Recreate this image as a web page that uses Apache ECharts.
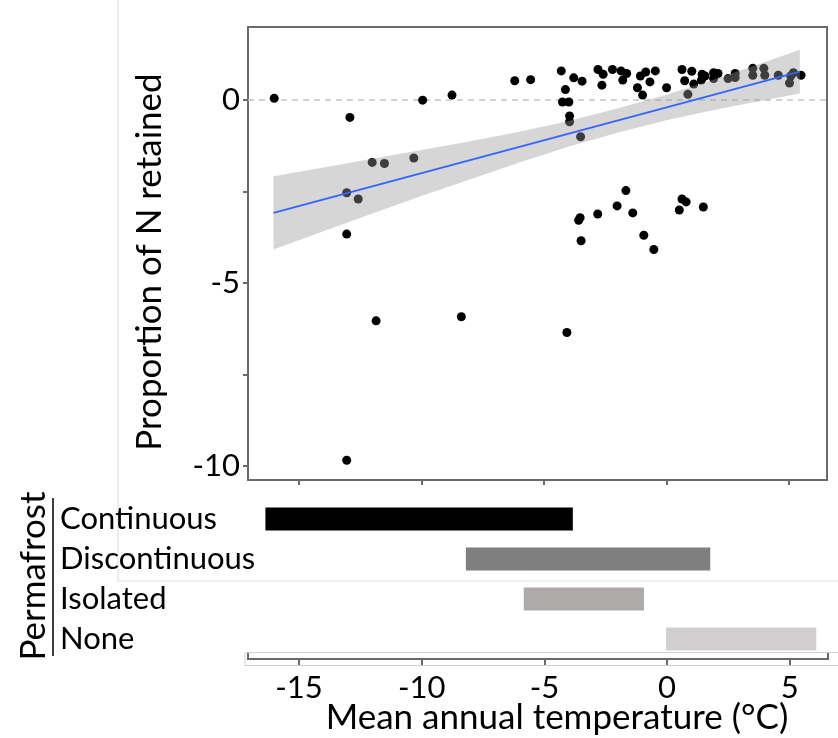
<!DOCTYPE html>
<html><head><meta charset="utf-8">
<script src="https://cdn.jsdelivr.net/npm/echarts@6/dist/echarts.min.js"></script>
<style>html,body{margin:0;padding:0;background:#fff}#c{width:838px;height:738px}</style>
</head><body><div id="c"></div>
<script>
// ---- data ----
const tempX = [-16.01, -12.92, -13.05, -12.58, -12.01, -11.51, -10.31, -13.05, -11.85, -8.37, -4.06, -13.05,
  -1.65, -2.01, -2.80, -3.52, -3.58, -1.37, -3.48, -0.92, -0.51, 0.64, 0.81, 0.53, 1.51,
  -9.95, -8.75, -6.19, -5.54, -4.29, -3.78, -3.44, -4.12, -4.24, -3.98, -3.95, -3.95, -3.50,
  -2.79, -2.58, -2.20, -1.85, -1.62, -2.63, -1.78, -1.06, -0.84, -0.45, -1.18, -0.67, -0.97, 0.01,
  0.64, 1.04, 0.75, 1.12, 0.88, 1.46, 1.58, 1.43, 1.93, 2.11, 1.93, 2.52, 2.81, 2.81,
  3.53, 3.53, 3.98, 4.02, 4.57, 5.03, 5.19, 5.50, 5.08];
const propN = [0.05, -0.47, -2.53, -2.70, -1.70, -1.73, -1.58, -3.66, -6.03, -5.92, -6.35, -9.84,
  -2.47, -2.89, -3.11, -3.21, -3.28, -3.08, -3.84, -3.69, -4.08, -2.70, -2.78, -3.00, -2.92,
  0.00, 0.14, 0.53, 0.56, 0.80, 0.61, 0.52, 0.29, -0.05, -0.05, -0.43, -0.59, -1.00,
  0.84, 0.71, 0.84, 0.80, 0.73, 0.41, 0.55, 0.66, 0.77, 0.80, 0.34, 0.50, 0.14, 0.34,
  0.84, 0.79, 0.53, 0.44, 0.16, 0.71, 0.66, 0.55, 0.75, 0.73, 0.59, 0.59, 0.73, 0.62,
  0.87, 0.68, 0.87, 0.68, 0.68, 0.47, 0.75, 0.68, 0.66];
const fitX = [-16.04, 5.45];
const fitY = [-3.08, 0.78];
const ciX    = [-16.04, -14, -12, -10, -8, -6, -4, -2, 0, 2, 4, 5.45];
const ciLow  = [-4.08, -3.58, -3.10, -2.62, -2.16, -1.70, -1.27, -0.89, -0.55, -0.26, 0.00, 0.18];
const ciHigh = [-2.08, -1.84, -1.60, -1.36, -1.12, -0.86, -0.57, -0.23, 0.15, 0.58, 1.04, 1.38];
const permCats  = ['Continuous', 'Discontinuous', 'Isolated', 'None'];
const permStart = [-16.37, -8.20, -5.84, -0.04];
const permEnd   = [-3.84, 1.76, -0.94, 6.08];
const xTicks = [-15, -10, -5, 0, 5];
const yTicks = [0, -2.5, -5, -7.5, -10];
const yTickLabels = [0, -5, -10];

// ---- styles ----
const FONT = 'Lato';
const FS = 31;
const FT = 35;
const barColors = ['#000000', '#7f7f7f', '#aeaaaa', '#d0cece'];
const axisGray = '#6a6a6a';
const X_MIN = -17.08, X_MAX = 6.56;

const chart = echarts.init(document.getElementById('c'), null, {renderer: 'canvas'});
const option = {
  animation: false,
  backgroundColor: '#fff',
  textStyle: {fontFamily: FONT},
  grid: [
    {left: 248, top: 27, right: 11, height: 453, show: true, borderColor: axisGray, borderWidth: 2, backgroundColor: 'transparent', containLabel: false},
    {left: 248, top: 499, right: 10, height: 160, containLabel: false}
  ],
  xAxis: [
    {gridIndex: 0, type: 'value', position: 'bottom', min: X_MIN, max: X_MAX, splitLine: {show: false},
      axisLine: {show: false, onZero: false},
      axisTick: {show: true, inside: false, length: 5, lineStyle: {color: axisGray, width: 2}, customValues: xTicks},
      axisLabel: {show: false}},
    {gridIndex: 1, type: 'value', position: 'bottom', min: X_MIN, max: X_MAX, splitLine: {show: false},
      axisLine: {show: true, onZero: false, lineStyle: {color: axisGray, width: 2}},
      axisTick: {show: true, length: 6, lineStyle: {color: axisGray, width: 2}, customValues: xTicks},
      axisLabel: {show: true, customValues: xTicks, fontSize: FS, fontFamily: FONT, color: '#000', margin: 13}}
  ],
  yAxis: [
    {gridIndex: 0, type: 'value', position: 'left', min: -10.38, max: 2.0, splitLine: {show: false},
      axisLine: {show: false, onZero: false},
      axisTick: {show: true, length: 5, lineStyle: {color: axisGray, width: 2}, customValues: yTicks},
      axisLabel: {show: true, customValues: yTickLabels, fontSize: FS, fontFamily: FONT, color: '#000', margin: 8}},
    {gridIndex: 1, type: 'category', data: permCats, inverse: true,
      axisLine: {show: false, onZero: false}, axisTick: {show: false}, splitLine: {show: false},
      axisLabel: {show: true, interval: 0, hideOverlap: false, align: 'left', margin: 188, fontSize: FS, fontFamily: FONT, color: '#000'}}
  ],
  series: [
    {type: 'scatter', xAxisIndex: 0, yAxisIndex: 0, z: 2,
      data: tempX.map((x, i) => [x, propN[i]]),
      symbol: 'circle', symbolSize: 9, itemStyle: {color: '#000', opacity: 1},
      markLine: {silent: true, symbol: 'none', label: {show: false}, z: 1,
        lineStyle: {color: '#c4c4c4', type: [6, 5], width: 1.5},
        data: [{yAxis: 0}]}},
    {type: 'custom', xAxisIndex: 0, yAxisIndex: 0, z: 3, clip: true,
      data: ciX.map((x, i) => [x, ciLow[i], ciHigh[i]]),
      encode: {x: 0, y: [1, 2]},
      renderItem: function (params, api) {
        if (params.dataIndex !== 0) return null;
        const pts = [];
        for (let i = 0; i < ciX.length; i++) pts.push(api.coord([ciX[i], ciHigh[i]]));
        for (let i = ciX.length - 1; i >= 0; i--) pts.push(api.coord([ciX[i], ciLow[i]]));
        return {type: 'polygon', shape: {points: pts}, style: {fill: 'rgba(153,153,153,0.4)'}};
      }},
    {type: 'line', xAxisIndex: 0, yAxisIndex: 0, z: 4, symbol: 'none',
      data: fitX.map((x, i) => [x, fitY[i]]),
      lineStyle: {color: '#3366ff', width: 2}},
    {type: 'custom', xAxisIndex: 1, yAxisIndex: 1, z: 2,
      data: permCats.map((c, i) => [permStart[i], permEnd[i], i]),
      encode: {x: [0, 1], y: 2},
      renderItem: function (params, api) {
        const cat = api.value(2);
        const s = api.coord([api.value(0), cat]);
        const e = api.coord([api.value(1), cat]);
        const h = 23;
        return {type: 'rect', shape: {x: s[0], y: s[1] - h / 2, width: e[0] - s[0], height: h},
          style: {fill: barColors[cat]}};
      }}
  ],
  graphic: [
    {type: 'line', shape: {x1: 118, y1: 0, x2: 118, y2: 581}, style: {stroke: '#dcdcdc', lineWidth: 1}, silent: true},
    {type: 'line', shape: {x1: 118, y1: 581, x2: 838, y2: 581}, style: {stroke: '#dcdcdc', lineWidth: 1}, silent: true},
    {type: 'rect', shape: {x: 245, y: 652.5, width: 600, height: 13}, style: {fill: 'none', stroke: '#cfcfcf', lineWidth: 1}, silent: true},
    {type: 'line', shape: {x1: 248, y1: 653, x2: 248, y2: 660}, style: {stroke: axisGray, lineWidth: 2}, silent: true},
    {type: 'line', shape: {x1: 828, y1: 653, x2: 828, y2: 660}, style: {stroke: axisGray, lineWidth: 2}, silent: true},
    {type: 'text', x: 150, y: 262, rotation: Math.PI / 2,
      style: {text: 'Proportion of N retained', font: FT + 'px ' + FONT, fill: '#000', textAlign: 'center', textVerticalAlign: 'middle'}},
    {type: 'text', x: 34, y: 576, rotation: Math.PI / 2,
      style: {text: 'Permafrost', font: FT + 'px ' + FONT, fill: '#000', textAlign: 'center', textVerticalAlign: 'middle'}},
    {type: 'line', shape: {x1: 53, y1: 498, x2: 53, y2: 656}, style: {stroke: '#000', lineWidth: 1.5}, silent: true},
    {type: 'text', x: 557, y: 718,
      style: {text: 'Mean annual temperature (°C)', font: FT + 'px ' + FONT, fill: '#000', textAlign: 'center', textVerticalAlign: 'middle'}}
  ]
};
chart.setOption(option);
</script>
</body></html>
